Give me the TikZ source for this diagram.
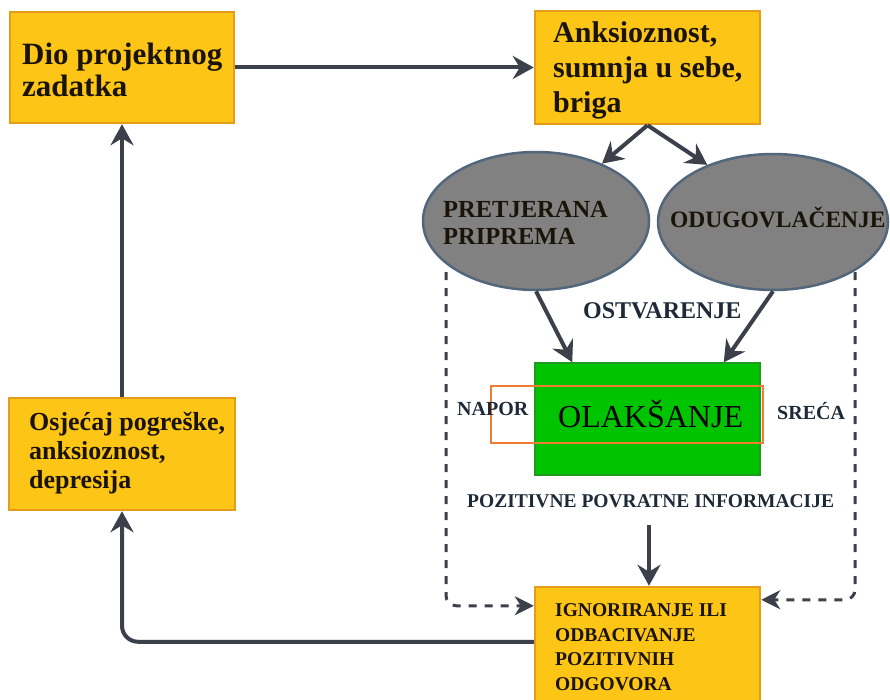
\documentclass[tikz,border=0pt]{standalone}
\usepackage{fontspec}
\setmainfont{Liberation Serif}
\usetikzlibrary{shapes.geometric,arrows.meta,calc}
\definecolor{boxfill}{HTML}{FDC516}
\definecolor{boxline}{HTML}{E59C1B}
\definecolor{ellfill}{HTML}{818181}
\definecolor{ellline}{HTML}{52677C}
\definecolor{grn}{HTML}{00C400}
\definecolor{grnline}{HTML}{1E9A1E}
\definecolor{arr}{HTML}{3B404A}
\definecolor{lbl}{HTML}{1E2A38}
\definecolor{txt}{HTML}{1A1408}
\definecolor{orng}{HTML}{ED7D31}
\begin{document}
\begin{tikzpicture}[x=1pt,y=-1pt,
  ybox/.style={draw=boxline,fill=boxfill,line width=2.5pt,inner sep=0pt},
  ell/.style={ellipse,draw=ellline,fill=ellfill,line width=2.5pt,inner sep=0pt},
  gbox/.style={draw=grnline,fill=grn,line width=1.5pt,inner sep=0pt},
  btxt/.style={anchor=base west,align=left,inner sep=0pt,text=txt,font=\bfseries},
  ltxt/.style={anchor=base west,align=left,inner sep=0pt,text=lbl,font=\bfseries},
  arrw/.style={draw=arr,line width=4pt,-{Stealth[length=21pt,width=23pt,inset=7pt]}},
  dsh/.style={draw=arr,line width=3pt,dash pattern=on 8pt off 8pt,-{Stealth[length=19pt,width=19pt,inset=6pt]}}
]
\useasboundingbox (0,0) rectangle (890,700);
\fill[white] (0,0) rectangle (890,700);

% boxes
\node[ybox,minimum width=224pt,minimum height=111pt] (b1) at (122,67.5) {};
\node[ybox,minimum width=225pt,minimum height=113pt] (b2) at (647.5,67.5) {};
\node[ybox,minimum width=226pt,minimum height=112pt] (b4) at (122,454) {};
\node[ybox,minimum width=225pt,minimum height=120pt] (b3) at (647.5,647) {};
\node[gbox,minimum width=225pt,minimum height=112pt] (g) at (647.5,419) {};
\node[draw=orng,line width=2pt,minimum width=272pt,minimum height=57pt,inner sep=0pt] (ob) at (627,414.5) {};
\node[ell,minimum width=226pt,minimum height=138pt] (e1) at (536,221) {};
\node[ell,minimum width=230pt,minimum height=136pt] (e2) at (773,222) {};

% texts (base anchor = baseline of last line)
\node[btxt,font=\fontsize{31}{32}\selectfont\bfseries] (t1) at (22,97) {Dio projektnog\\zadatka};
\node[btxt,font=\fontsize{30}{35}\selectfont\bfseries] (t2) at (553,113) {Anksioznost,\\sumnja u sebe,\\briga};
\node[btxt,font=\fontsize{26}{29}\selectfont\bfseries] (t4) at (29,488) {Osjećaj pogreške,\\anksioznost,\\depresija};
\node[btxt,font=\fontsize{19.5}{24.5}\selectfont\bfseries] (t3) at (555,690) {IGNORIRANJE ILI\\ODBACIVANJE\\POZITIVNIH\\ODGOVORA};
\node[btxt,font=\fontsize{24.5}{27}\selectfont\bfseries] (te1) at (443,245) {PRETJERANA\\PRIPREMA};
\node[btxt,font=\fontsize{23.5}{27}\selectfont\bfseries] (te2) at (670,228) {ODUGOVLAČENJE};
\node[ltxt,font=\fontsize{24}{27}\selectfont\bfseries] (tost) at (583,318) {OSTVARENJE};
\node[ltxt,font=\fontsize{20}{24}\selectfont\bfseries] (tnap) at (457,415) {NAPOR};
\node[ltxt,font=\fontsize{20}{24}\selectfont\bfseries] (tsre) at (777,419) {SREĆA};
\node[ltxt,font=\fontsize{19.5}{24}\selectfont\bfseries] (tpoz) at (467,507) {POZITIVNE POVRATNE INFORMACIJE};
\node[anchor=base west,inner sep=0pt,text=black,font=\fontsize{32}{36}\selectfont] (tola) at (558,427) {OLAKŠANJE};

% connectors
\draw[arrw] (b1.east) -- (b2.west);
\draw[arrw] (b2.south) -- (e1.41);
\draw[arrw] (b2.south) -- (e2.139);
\draw[arrw] (e1.south) -- ($(g.north west)+(38,0)$);
\draw[arrw] (e2.south) -- ($(g.north east)+(-37,0)$);
\coordinate (pa) at (649,525);
\draw[arrw] (pa) -- (b3.north -| pa);
\draw[arrw] (b4.north) -- (b1.south);
\draw[arrw,rounded corners=16pt] ($(b3.north west)+(0,56)$) -| (b4.south);
\coordinate (dl) at (446,272);
\coordinate (dr) at (855,272);
\draw[dsh,rounded corners=10pt] (dl) |- ($(b3.north west)+(0,20)$);
\draw[dsh,rounded corners=10pt] (dr) |- ($(b3.north east)+(0,14)$);
\end{tikzpicture}
\end{document}
